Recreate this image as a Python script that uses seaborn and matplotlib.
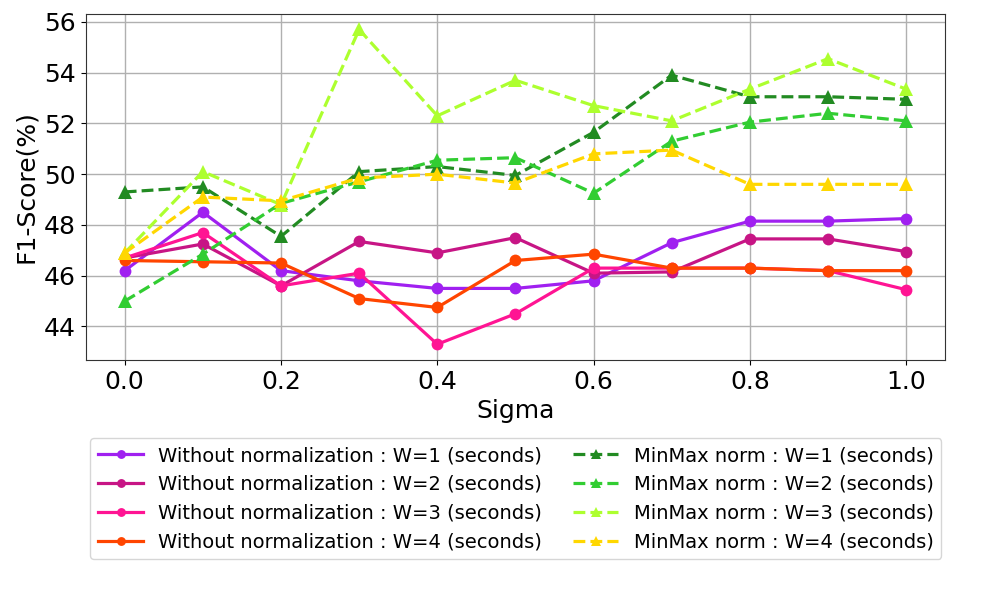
import numpy as np
import pandas as pd
import seaborn as sns
import matplotlib.pyplot as plt

sigma = [0.0, 0.1, 0.2, 0.3, 0.4, 0.5, 0.6, 0.7, 0.8, 0.9, 1.0]

raw_w1 = [46.2, 48.5, 46.2, 45.8, 45.5, 45.5, 45.8, 47.3, 48.15, 48.15, 48.25]
raw_w2 = [46.7, 47.25, 45.6, 47.35, 46.9, 47.5, 46.1, 46.15, 47.45, 47.45, 46.95]
raw_w3 = [46.7, 47.7, 45.6, 46.1, 43.3, 44.5, 46.3, 46.3, 46.3, 46.2, 45.45]
raw_w4 = [46.6, 46.55, 46.5, 45.1, 44.75, 46.6, 46.85, 46.3, 46.3, 46.2, 46.2]

mm_w1 = [49.3, 49.5, 47.55, 50.1, 50.3, 49.95, 51.65, 53.9, 53.05, 53.05, 52.95]
mm_w2 = [45.0, 46.85, 48.85, 49.7, 50.55, 50.65, 49.25, 51.3, 52.05, 52.4, 52.1]
mm_w3 = [46.9, 50.1, 48.8, 55.7, 52.3, 53.7, 52.7, 52.1, 53.35, 54.55, 53.35]
mm_w4 = [46.9, 49.1, 48.95, 49.85, 50.0, 49.65, 50.8, 50.95, 49.6, 49.6, 49.6]

yticks = [44, 46, 48, 50, 52, 54, 56]

series = [
    ('Without normalization : W=1 (seconds)', raw_w1, '#a020f0', 'o', '-'),
    ('Without normalization : W=2 (seconds)', raw_w2, 'mediumvioletred', 'o', '-'),
    ('Without normalization : W=3 (seconds)', raw_w3, 'deeppink', 'o', '-'),
    ('Without normalization : W=4 (seconds)', raw_w4, 'orangered', 'o', '-'),
    ('MinMax norm : W=1 (seconds)', mm_w1, 'forestgreen', '^', '--'),
    ('MinMax norm : W=2 (seconds)', mm_w2, 'limegreen', '^', '--'),
    ('MinMax norm : W=3 (seconds)', mm_w3, 'greenyellow', '^', '--'),
    ('MinMax norm : W=4 (seconds)', mm_w4, 'gold', '^', '--'),
]

fig, ax = plt.subplots(figsize=(9.96, 5.98), dpi=100)
fig.subplots_adjust(left=0.086, right=0.949, top=0.977, bottom=0.398)

for name, vals, col, mk, ls in series:
    df = pd.DataFrame({'Sigma': sigma, 'F1': vals})
    ms = 9.5 if mk == '^' else 8.5
    sns.lineplot(data=df, x='Sigma', y='F1', ax=ax, color=col, marker=mk,
                 linestyle=ls, linewidth=2.3, markersize=ms, markeredgewidth=0,
                 label=name, legend=False)

ax.grid(True, color='#b0b0b0', linewidth=1)
ax.set_xlabel('Sigma', fontsize=18)
ax.set_ylabel('F1-Score(%)', fontsize=18)
ax.tick_params(labelsize=18)
ax.set_xticks([0.0, 0.2, 0.4, 0.6, 0.8, 1.0])
ax.set_yticks(yticks)
for sp in ax.spines.values():
    sp.set_color('#333333')

handles, labels = ax.get_legend_handles_labels()
fig.legend(handles, labels, ncol=2, fontsize=14, loc='center',
           bbox_to_anchor=(0.518, 0.166), handlelength=2.3, columnspacing=1.6,
           handletextpad=0.8, markerscale=0.75)

fig.savefig('out.png', dpi=100)
